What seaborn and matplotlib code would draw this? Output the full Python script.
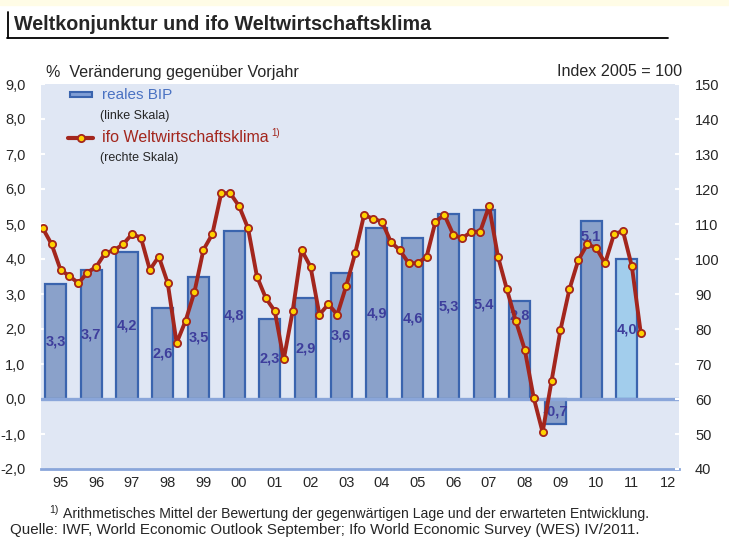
import numpy as np
import pandas as pd
import matplotlib
matplotlib.use('Agg')
import matplotlib.pyplot as plt
from matplotlib.ticker import FuncFormatter
from matplotlib.lines import Line2D
from matplotlib.patches import Rectangle
import seaborn as sns

# Jahreswerte reales BIP (linke Skala, %)
jahre = list(range(1995, 2012))
bip = [3.3, 3.7, 4.2, 2.6, 3.5, 4.8, 2.3, 2.9, 3.6, 4.9, 4.6, 5.3, 5.4, 2.8, -0.7, 5.1, 4.0]

# ifo Weltwirtschaftsklima, quartalsweise 1995 Q1 .. 2011 Q4 (rechte Skala, 2005 = 100)
ifo = [108.8, 104.2, 96.9, 95.1, 93.1, 96.1, 97.8, 101.7,
       102.5, 104.2, 107.1, 106.1, 96.9, 100.7, 93.2, 76.0,
       82.3, 90.6, 102.6, 107.1, 118.8, 118.8, 115.1, 108.8,
       95.0, 88.8, 85.1, 71.3, 85.1, 102.6, 97.8, 84.1,
       87.1, 84.1, 92.3, 101.6, 112.6, 111.5, 110.7, 104.9,
       102.5, 98.8, 98.8, 100.6, 110.7, 112.6, 106.9, 105.9,
       107.8, 107.8, 115.1, 100.7, 91.3, 82.3, 74.1, 60.4,
       50.5, 65.1, 79.7, 91.3, 99.7, 104.2, 103.2, 98.8,
       107.1, 108.0, 97.9, 78.8]

jahr_labels = ['95', '96', '97', '98', '99', '00', '01', '02', '03',
               '04', '05', '06', '07', '08', '09', '10', '11', '12']

df_q = pd.DataFrame({'jahr': np.repeat(jahre, 4), 'quartal': np.tile([1, 2, 3, 4], len(jahre))})
df_q['t'] = df_q['jahr'] - 1995 + (df_q['quartal'] - 1) / 4
df_q['ifo'] = ifo

df_j = pd.DataFrame({'jahr': jahre, 'bip': bip})
df_j['t'] = df_j['jahr'] - 1995 + 0.36

bg = '#E0E7F4'
bar_fc = '#7F9ED5'
bar_ec = '#3A64AE'
bar_fc_prog = '#A2CDEC'
achse = '#8AA6DA'
rot = '#A3261D'
gelb = '#FFD200'
label_blau = '#3E3E9C'

W, H = 729, 538
def fx(x): return x / W
def fy(y): return 1 - y / H

sns.set_theme(style='white')
plt.rcParams['font.family'] = ['Liberation Sans', 'DejaVu Sans']

fig = plt.figure(figsize=(W / 100, H / 100), dpi=100)
x0, x1, ytop, ybot = 41, 679, 84, 469
ax = fig.add_axes([fx(x0), fy(ybot), (x1 - x0) / W, (ybot - ytop) / H])
ax.set_facecolor(bg)

sns.barplot(data=df_j, x='t', y='bip', native_scale=True, width=0.59, color=bar_fc,
            edgecolor=bar_ec, linewidth=1.6, errorbar=None, ax=ax, zorder=2)
ax.patches[-1].set_facecolor(bar_fc_prog)
for p in ax.patches:
    p.set_alpha(1)

# Werte in den Balken
versatz = {2008: 2.4, 2010: 4.65}
for _, r in df_j.iterrows():
    yl = versatz.get(int(r['jahr']), r['bip'] / 2)
    ax.text(r['t'], yl, f"{r['bip']:.1f}".replace('.', ','), ha='center', va='center',
            fontsize=10.5, fontweight='bold', color=label_blau, zorder=3)

ax.axhline(0, color=achse, lw=2.4, zorder=2.5)

ax.set_ylim(-2, 9)
ax.set_xlim(-0.048, 17.82)
ax.set_yticks(np.arange(-2, 9.5, 1))
ax.yaxis.set_major_formatter(FuncFormatter(lambda v, p: f'{v:.1f}'.replace('.', ',')))
ax.set_xticks([k + 0.5 for k in range(len(jahr_labels))])
ax.set_xticklabels(jahr_labels)
ax.set_xticks([k + 0.84 for k in range(len(jahr_labels))], minor=True)
ax.tick_params(axis='x', which='major', length=0, labelsize=10.5, pad=5)
ax.tick_params(axis='x', which='minor', direction='in', length=4, width=1.5, color=achse)
ax.tick_params(axis='y', direction='in', length=3, width=1.5, color='white', labelsize=10.5, pad=11)
ax.set_xlabel('')
ax.set_ylabel('')
for s in ['top', 'left', 'right']:
    ax.spines[s].set_visible(False)
ax.spines['bottom'].set_color(achse)
ax.spines['bottom'].set_linewidth(2)

ax2 = ax.twinx()
sns.lineplot(data=df_q, x='t', y='ifo', ax=ax2, color=rot, lw=2.8, marker='o',
             markersize=5.2, markerfacecolor=gelb, markeredgecolor=rot, markeredgewidth=1.3)
ax2.set_ylim(40, 150)
ax2.set_yticks(np.arange(40, 151, 10))
ax2.tick_params(axis='y', direction='in', length=3, width=1.5, color='white', labelsize=10.5, pad=11.5)
ax2.set_ylabel('')
for s in ax2.spines.values():
    s.set_visible(False)
ax.set_xlim(-0.048, 17.82)

# Kopfzeile
fig.patches.append(Rectangle((0, fy(5)), 1, 5 / H, transform=fig.transFigure, color='#FFFCE6', zorder=0))
fig.text(fx(14), fy(25), 'Weltkonjunktur und ifo Weltwirtschaftsklima', fontsize=14.2,
         fontweight='bold', va='center', ha='left')
fig.add_artist(Line2D([fx(7.5), fx(7.5)], [fy(12), fy(38)], color='black', lw=1.3))
fig.add_artist(Line2D([fx(7), fx(668)], [fy(38), fy(38)], color='black', lw=1.3))

fig.text(fx(46), fy(72), '%  Veränderung gegenüber Vorjahr', fontsize=11.6, va='center')
fig.text(fx(682), fy(72), 'Index 2005 = 100', fontsize=11.6, va='center', ha='right')

# Legende
fig.patches.append(Rectangle((fx(70), fy(97)), 22 / W, 5 / H, transform=fig.transFigure,
                             facecolor=bar_fc, edgecolor=bar_ec, lw=1.5))
fig.text(fx(102), fy(95), 'reales BIP', fontsize=11, va='center', color='#4A72C2')
fig.text(fx(100), fy(116), '(linke Skala)', fontsize=9, va='center')
fig.add_artist(Line2D([fx(68), fx(93)], [fy(138), fy(138)], color=rot, lw=3.0))
fig.add_artist(Line2D([fx(80.5)], [fy(138)], color=rot, marker='o', markersize=5.2,
                      markerfacecolor=gelb, markeredgecolor=rot, markeredgewidth=1.3, lw=0))
fig.text(fx(102), fy(137), 'ifo Weltwirtschaftsklima', fontsize=11.5, va='center', color=rot)
fig.text(fx(271), fy(133), '1)', fontsize=7, va='center', color=rot)
fig.text(fx(100), fy(158), '(rechte Skala)', fontsize=9, va='center')

# Fußnoten
fig.text(fx(49), fy(510), '1)', fontsize=7.5, va='center')
fig.text(fx(63), fy(514), 'Arithmetisches Mittel der Bewertung der gegenwärtigen Lage und der erwarteten Entwicklung.',
         fontsize=10.1, va='center')
fig.text(fx(10), fy(530), 'Quelle: IWF, World Economic Outlook September; Ifo World Economic Survey (WES) IV/2011.',
         fontsize=10.9, va='center')

fig.savefig('out.png', dpi=100)
